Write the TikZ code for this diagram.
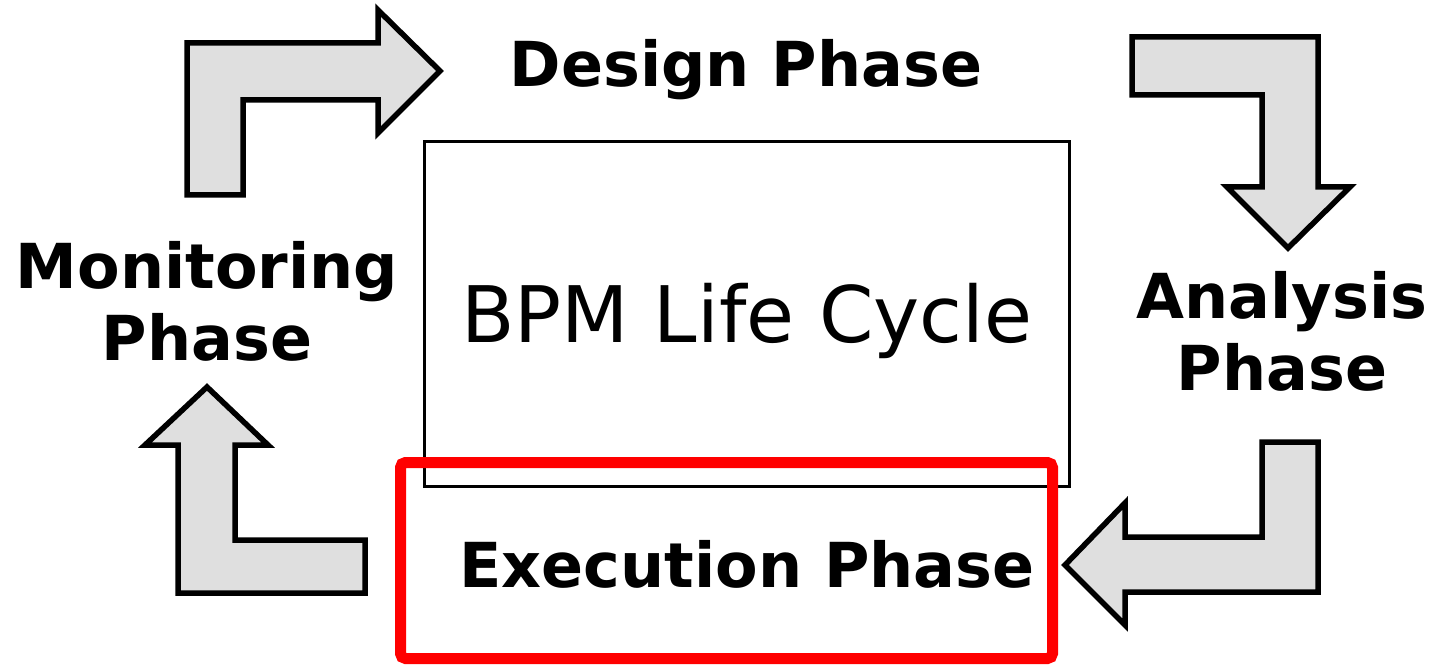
\documentclass[tikz,border=0pt]{standalone}
\usepackage{fontspec}
\setmainfont{DejaVu Sans}
\usetikzlibrary{positioning}
\definecolor{arrowgray}{HTML}{DFDFDF}
\definecolor{markred}{HTML}{FF0000}
\tikzset{
    bigarrow/.style={draw,line width=5.5pt,fill=arrowgray,line join=miter},
    phase/.style={font=\fontsize{62}{72}\selectfont\bfseries,align=center,inner sep=0pt,anchor=base},
    block/.style={shape=rectangle,draw,line width=3.5pt},
    highlight/.style={shape=rectangle,draw=markred,line width=11pt,rounded corners=5pt}
}

\begin{document}
\begin{tikzpicture}[x=1pt,y=-1pt]
    \useasboundingbox (0,0) rectangle (1436,666);

    % center box
    \node [block, minimum width=645pt, minimum height=345pt,
           font=\fontsize{78}{90}\selectfont, text height=56pt, text depth=0pt] at (747,314) (cycle) {BPM Life Cycle};

    % phases (anchor base = last line)
    \node [phase] at (746,87)   (design)     {Design Phase};
    \node [phase] at (1282,390) (analysis)   {Analysis\\Phase};
    \node [phase] at (747,587)  (execution)  {Execution Phase};
    \node [phase] at (207,360)  (monitoring) {Monitoring\\Phase};

    % marked phase
    \node [highlight, minimum width=652pt, minimum height=196pt] at (726.5,560.5) (mark) {};

    % bent arrows (clockwise)
    \draw [bigarrow] (187,195) -- (187,43) -- (378,43) -- (378,10) -- (440,71)
        -- (378,133) -- (378,100) -- (243,100) -- (243,195) -- cycle;
    \draw [bigarrow] (1132,37) -- (1318,37) -- (1318,187) -- (1350,187) -- (1288,248)
        -- (1227,187) -- (1262,187) -- (1262,95) -- (1132,95) -- cycle;
    \draw [bigarrow] (1262,442) -- (1318,442) -- (1318,592) -- (1125,592) -- (1125,625)
        -- (1065,565) -- (1125,503) -- (1125,537) -- (1262,537) -- cycle;
    \draw [bigarrow] (365,540) -- (365,593) -- (178,593) -- (178,445) -- (145,445)
        -- (207,387) -- (268,445) -- (235,445) -- (235,540) -- cycle;
\end{tikzpicture}
\end{document}
